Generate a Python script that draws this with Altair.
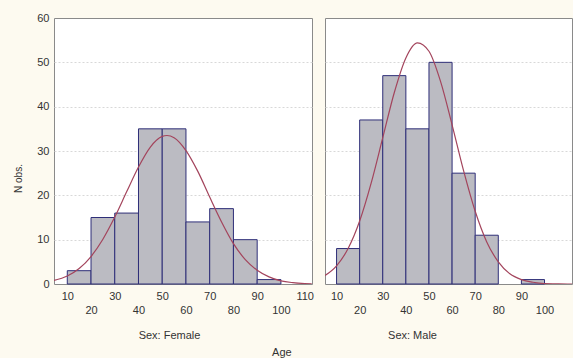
import altair as alt
import pandas as pd

# ---- data ----
bin_start = [10, 20, 30, 40, 50, 60, 70, 80, 90, 100]
bin_end = [20, 30, 40, 50, 60, 70, 80, 90, 100, 110]
female_counts = [3, 15, 16, 35, 35, 14, 17, 10, 1, 0]
male_counts = [8, 37, 47, 35, 50, 25, 11, 0, 1, 0]

curve_x_f = [4.4, 10, 15, 20, 25, 30, 35, 40, 45, 50, 52, 55, 60, 65, 70, 75, 80, 85, 90, 95, 100, 105, 110, 113]
female_curve = [0.8, 1.8, 3.5, 6.2, 10.1, 15.1, 20.8, 26.4, 30.9, 33.3, 33.5, 33.0, 30.1, 25.4, 19.6, 14.0, 9.1, 5.5, 3.1, 1.6, 0.7, 0.3, 0.1, 0.05]
curve_x_m = [5, 10, 15, 20, 25, 30, 35, 40, 45, 50, 55, 60, 65, 70, 75, 80, 85, 90, 95, 100, 105, 110, 112]
male_curve = [1.9, 4.1, 8.0, 14.2, 22.8, 33.0, 43.2, 51.0, 54.4, 52.5, 45.7, 35.9, 25.5, 16.4, 9.5, 5.0, 2.3, 1.0, 0.4, 0.1, 0.04, 0.0, 0.0]

y_ticks = [0, 10, 20, 30, 40, 50, 60]
x_ticks_odd_f = [10, 30, 50, 70, 90, 110]
x_ticks_odd_m = [10, 30, 50, 70, 90]
x_ticks_even = [20, 40, 60, 80, 100]

FONT = "Liberation Sans"
BAR_FILL = "#bbbbc2"
BAR_STROKE = "#2e2e78"
CURVE = "#a3445c"
TXT = "#333333"
GRID_OPACITY = {"condition": {"test": "datum.value == 0 || datum.value == 60", "value": 0}, "value": 1}


def panel(counts, cx, cy, title, x_domain, width, odd_ticks, even_ticks, show_y, title_x):
    bars_df = pd.DataFrame({"start": bin_start, "end": bin_end, "count": counts})
    curve_df = pd.DataFrame({"age": cx, "n": cy})
    xscale = alt.Scale(domain=x_domain, nice=False, zero=False)
    yscale = alt.Scale(domain=[0, 60], nice=False)
    axis_odd = alt.Axis(
        orient="bottom", values=odd_ticks, title=title, ticks=False, domain=False, grid=False,
        labelFontSize=11, labelColor=TXT, labelFont=FONT, labelOverlap=False,
        labelPadding=6, labelBaseline="top",
        titleFont=FONT, titleFontSize=11, titleFontWeight="normal", titleColor=TXT,
        titlePadding=28, titleX=title_x,
    )
    axis_even = alt.Axis(
        orient="bottom", values=even_ticks, title=None, ticks=False, domain=False, grid=False,
        labelFontSize=11, labelColor=TXT, labelFont=FONT, labelOverlap=False,
        labelPadding=20, labelBaseline="top",
    )
    if show_y:
        yaxis = alt.Axis(
            values=y_ticks, title="N obs.", ticks=False, domain=False,
            labelFontSize=11, labelColor=TXT, labelFont=FONT, labelPadding=5,
            titleFont=FONT, titleFontSize=10, titleFontWeight="normal", titleColor=TXT,
            titlePadding=13, titleY=160,
            grid=True, gridColor="#d8d8d8", gridDash=[2, 2], gridOpacity=GRID_OPACITY,
        )
    else:
        yaxis = alt.Axis(
            values=y_ticks, title=None, ticks=False, domain=False, labels=False,
            grid=True, gridColor="#d8d8d8", gridDash=[2, 2], gridOpacity=GRID_OPACITY,
        )
    bars = alt.Chart(bars_df).transform_filter("datum.count > 0").mark_rect(
        fill=BAR_FILL, stroke=BAR_STROKE, strokeWidth=1
    ).encode(
        x=alt.X("start:Q", scale=xscale, axis=axis_odd),
        x2="end:Q",
        y=alt.Y("count:Q", scale=yscale, axis=yaxis),
        y2=alt.datum(0),
    )
    line = alt.Chart(curve_df).mark_line(
        color=CURVE, strokeWidth=1.2, interpolate="monotone", clip=True
    ).encode(
        x=alt.X("age:Q", scale=xscale, axis=axis_even),
        y=alt.Y("n:Q", scale=yscale),
    )
    return alt.layer(bars, line).resolve_scale(x="shared").resolve_axis(
        x="independent"
    ).properties(width=width, height=266)


left = panel(female_counts, curve_x_f, female_curve, "Sex: Female", [4.4, 113.1], 258,
             x_ticks_odd_f, x_ticks_even, True, 115)
right = panel(male_counts, curve_x_m, male_curve, "Sex: Male", [5, 111.9], 247,
              x_ticks_odd_m, x_ticks_even, False, 87)

chart = alt.hconcat(left, right, spacing=10).properties(
    title=alt.TitleParams("Age", orient="bottom", anchor="middle", font=FONT, fontSize=11,
                          fontWeight="normal", color=TXT, offset=6, dx=-11),
    padding={"left": 13, "top": 11, "right": 0, "bottom": 8},
).configure(background="#fdfaf0").configure_view(
    stroke="#8a8a8a", strokeWidth=1, fill="white"
)

chart.save("out.html", embed_options={"renderer": "svg", "actions": False})
